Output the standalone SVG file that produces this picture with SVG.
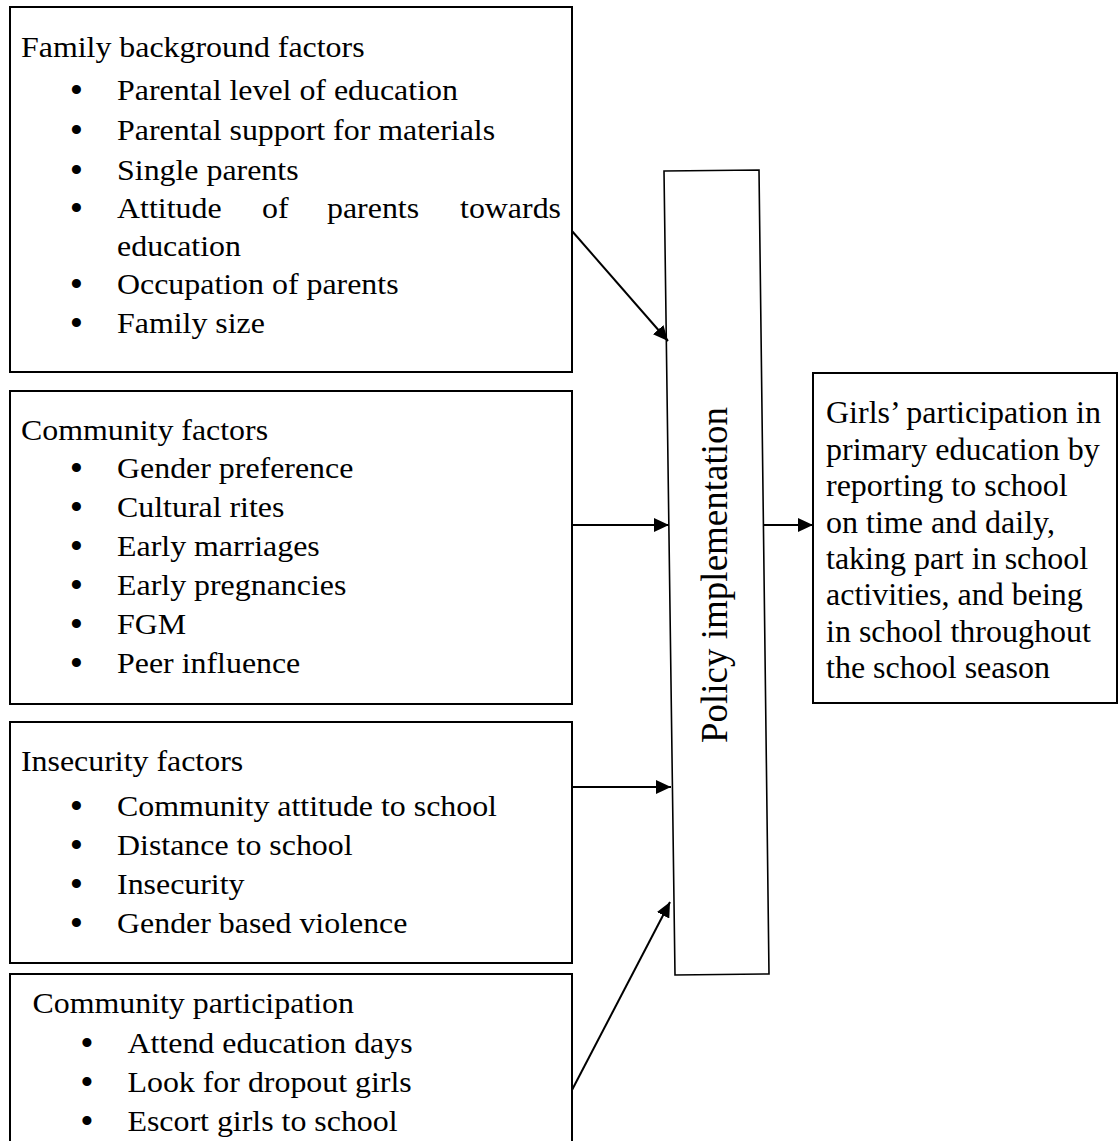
<svg xmlns="http://www.w3.org/2000/svg" width="1118" height="1141" viewBox="0 0 1118 1141">
<style>
.box{fill:#fff;stroke:#000;stroke-width:2}
.pol{fill:#fff;stroke:#000;stroke-width:1.6}
.t{font-family:"Liberation Serif","Times New Roman",serif;font-size:29px;fill:#000}
.g{font-family:"Liberation Serif","Times New Roman",serif;font-size:32px;fill:#000}
.b{font-family:"Liberation Serif","Times New Roman",serif;font-size:38px;fill:#000;text-anchor:middle}
.p{font-family:"Liberation Serif","Times New Roman",serif;font-size:37px;fill:#000;text-anchor:middle}
.c{stroke:#000;stroke-width:2;fill:none;marker-end:url(#ah)}
</style>
<defs>
<marker id="ah" markerUnits="userSpaceOnUse" markerWidth="16" markerHeight="14" refX="15" refY="7" orient="auto">
<path d="M0,0 L15,7 L0,14 z" fill="#000"/>
</marker>
</defs>
<rect width="1118" height="1141" fill="#fff"/>

<g id="family">
<rect class="box" x="10" y="7" width="562" height="365"/>
<g transform="scale(1.1,1)">
<text class="t" x="19.1" y="57">Family background factors</text>
<text class="t" x="106.4" y="100">Parental level of education</text>
<text class="t" x="106.4" y="140">Parental support for materials</text>
<text class="t" x="106.4" y="180">Single parents</text>
<text class="t" x="106.4" y="218">Attitude</text>
<text class="t" x="238.2" y="218">of</text>
<text class="t" x="297.3" y="218">parents</text>
<text class="t" x="510" y="218" text-anchor="end">towards</text>
<text class="t" x="106.4" y="256">education</text>
<text class="t" x="106.4" y="294">Occupation of parents</text>
<text class="t" x="106.4" y="333">Family size</text>
</g>
<text class="b" x="76.5" y="103">•</text>
<text class="b" x="76.5" y="143">•</text>
<text class="b" x="76.5" y="183">•</text>
<text class="b" x="76.5" y="221">•</text>
<text class="b" x="76.5" y="297">•</text>
<text class="b" x="76.5" y="336">•</text>
</g>

<g id="community">
<rect class="box" x="10" y="391" width="562" height="313"/>
<g transform="scale(1.1,1)">
<text class="t" x="19.1" y="440">Community factors</text>
<text class="t" x="106.4" y="478">Gender preference</text>
<text class="t" x="106.4" y="517">Cultural rites</text>
<text class="t" x="106.4" y="556">Early marriages</text>
<text class="t" x="106.4" y="595">Early pregnancies</text>
<text class="t" x="106.4" y="634">FGM</text>
<text class="t" x="106.4" y="673">Peer influence</text>
</g>
<text class="b" x="76.5" y="481">•</text>
<text class="b" x="76.5" y="520">•</text>
<text class="b" x="76.5" y="559">•</text>
<text class="b" x="76.5" y="598">•</text>
<text class="b" x="76.5" y="637">•</text>
<text class="b" x="76.5" y="676">•</text>
</g>

<g id="insecurity">
<rect class="box" x="10" y="722" width="562" height="241"/>
<g transform="scale(1.1,1)">
<text class="t" x="19.1" y="771">Insecurity factors</text>
<text class="t" x="106.4" y="816">Community attitude to school</text>
<text class="t" x="106.4" y="855">Distance to school</text>
<text class="t" x="106.4" y="894">Insecurity</text>
<text class="t" x="106.4" y="933">Gender based violence</text>
</g>
<text class="b" x="76.5" y="819">•</text>
<text class="b" x="76.5" y="858">•</text>
<text class="b" x="76.5" y="897">•</text>
<text class="b" x="76.5" y="936">•</text>
</g>

<g id="participation">
<rect class="box" x="10" y="974" width="562" height="180"/>
<g transform="scale(1.1,1)">
<text class="t" x="29.5" y="1013">Community participation</text>
<text class="t" x="115.9" y="1053">Attend education days</text>
<text class="t" x="115.9" y="1092">Look for dropout girls</text>
<text class="t" x="115.9" y="1131">Escort girls to school</text>
</g>
<text class="b" x="87" y="1056">•</text>
<text class="b" x="87" y="1095">•</text>
<text class="b" x="87" y="1134">•</text>
</g>

<g id="policy">
<polygon class="pol" points="664,171 759,170 769,974 675,975"/>
<text class="p" transform="translate(727,575) rotate(-90)" x="0" y="0">Policy implementation</text>
</g>

<g id="outcome">
<rect class="box" x="813" y="373" width="304" height="330"/>
<text class="g" x="826" y="423">Girls’ participation in</text>
<text class="g" x="826" y="460">primary education by</text>
<text class="g" x="826" y="496">reporting to school</text>
<text class="g" x="826" y="533">on time and daily,</text>
<text class="g" x="826" y="569">taking part in school</text>
<text class="g" x="826" y="605">activities, and being</text>
<text class="g" x="826" y="642">in school throughout</text>
<text class="g" x="826" y="678">the school season</text>
</g>

<g id="connectors">
<line class="c" x1="572" y1="231" x2="668" y2="341"/>
<line class="c" x1="572" y1="525" x2="669" y2="525"/>
<line class="c" x1="572" y1="787" x2="671" y2="787"/>
<line class="c" x1="572" y1="1090" x2="670" y2="902"/>
<line class="c" x1="763" y1="525" x2="813" y2="525"/>
</g>
</svg>
